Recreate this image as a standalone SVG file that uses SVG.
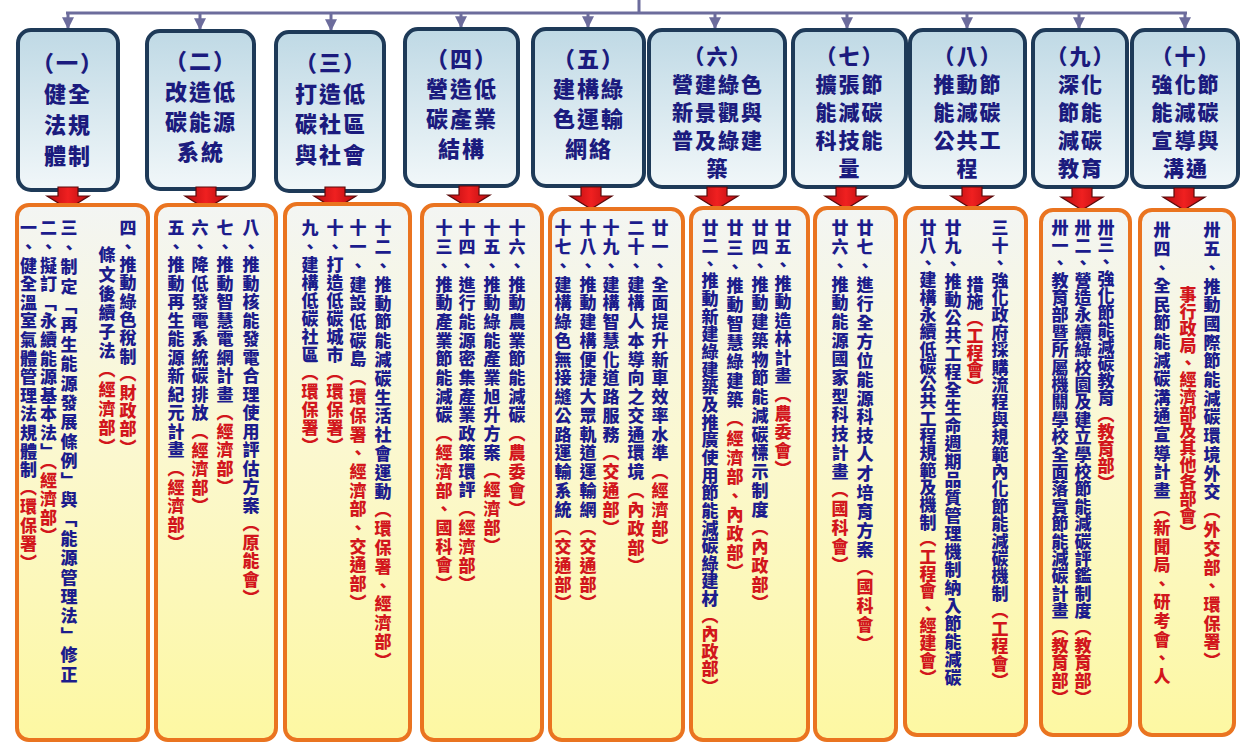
<svg xmlns="http://www.w3.org/2000/svg" width="1242" height="743" viewBox="0 0 1242 743">
<style>
.h{font-family:"Noto Sans CJK TC","Noto Sans CJK SC",sans-serif;font-size:22px;font-weight:900;fill:#1b1b7e;text-anchor:middle;letter-spacing:2px}
.h5{font-size:21px}
.v{font-family:"Noto Sans CJK TC","Noto Sans CJK SC",sans-serif;font-size:17px;font-weight:900;fill:#1c1c8c;writing-mode:vertical-rl;letter-spacing:1.6px}
.r{fill:#d2161c}
.hb{fill:url(#gb);stroke:#1e3a58;stroke-width:4}
.ob{fill:url(#gy);stroke:#ea7420;stroke-width:4}
.cn{stroke:#6c6c9c;stroke-width:3;fill:none}
.ra{fill:url(#gr);stroke:#5a0a0a;stroke-width:1.2}
</style>
<defs>
<linearGradient id="gb" x1="0" y1="0" x2="0" y2="1"><stop offset="0" stop-color="#bfd9e5"/><stop offset="1" stop-color="#f1f7f9"/></linearGradient>
<linearGradient id="gy" x1="0" y1="0" x2="0" y2="1"><stop offset="0" stop-color="#f3f5f3"/><stop offset="0.45" stop-color="#fbf8d0"/><stop offset="1" stop-color="#fdf8a2"/></linearGradient>
<linearGradient id="gr" x1="0" y1="0" x2="1" y2="0"><stop offset="0" stop-color="#b80c10"/><stop offset="0.5" stop-color="#f02020"/><stop offset="1" stop-color="#b80c10"/></linearGradient>
<marker id="ah" viewBox="0 0 10 10" refX="9" refY="5" markerWidth="4" markerHeight="4" orient="auto"><path d="M0,0 L10,5 L0,10 z" fill="#6c6c9c"/></marker>
<path id="arw" d="M-10,0 L10,0 L10,9 L21,9 L0,22 L-21,9 L-10,9 z"/>
</defs>
<rect width="1242" height="743" fill="#ffffff"/>
<g id="connectors">
<path class="cn" d="M639,0 V13 M66,13 H1187"/>
<g marker-end="url(#ah)">
<path class="cn" d="M68,13 V28"/><path class="cn" d="M200,13 V29"/><path class="cn" d="M331,13 V30"/><path class="cn" d="M461,13 V27"/><path class="cn" d="M588,13 V27"/><path class="cn" d="M715,13 V28"/><path class="cn" d="M847,13 V28"/><path class="cn" d="M967,13 V28"/><path class="cn" d="M1079,13 V28"/><path class="cn" d="M1185,13 V28"/>
</g>
</g>
<g id="h1"><rect class="hb" x="18" y="30" width="100" height="160" rx="13"/><text class="h"><tspan x="68" y="71">（一）</tspan><tspan x="68" y="102">健全</tspan><tspan x="68" y="133">法規</tspan><tspan x="68" y="164">體制</tspan></text></g>
<g id="h2"><rect class="hb" x="147" y="31" width="107" height="158" rx="13"/><text class="h"><tspan x="201" y="69">（二）</tspan><tspan x="201" y="100">改造低</tspan><tspan x="201" y="130">碳能源</tspan><tspan x="201" y="160">系統</tspan></text></g>
<g id="h3"><rect class="hb" x="276" y="32" width="108" height="159" rx="13"/><text class="h"><tspan x="331" y="71">（三）</tspan><tspan x="331" y="102">打造低</tspan><tspan x="331" y="132">碳社區</tspan><tspan x="331" y="163">與社會</tspan></text></g>
<g id="h4"><rect class="hb" x="405" y="29" width="113" height="157" rx="13"/><text class="h"><tspan x="462" y="67">（四）</tspan><tspan x="462" y="97">營造低</tspan><tspan x="462" y="127">碳產業</tspan><tspan x="462" y="157">結構</tspan></text></g>
<g id="h5"><rect class="hb" x="533" y="29" width="111" height="157" rx="13"/><text class="h"><tspan x="589" y="67">（五）</tspan><tspan x="589" y="97">建構綠</tspan><tspan x="589" y="127">色運輸</tspan><tspan x="589" y="157">網絡</tspan></text></g>
<g id="h6"><rect class="hb" x="649" y="30" width="136" height="157" rx="13"/><text class="h h5"><tspan x="718" y="64">（六）</tspan><tspan x="718" y="92">營建綠色</tspan><tspan x="718" y="120">新景觀與</tspan><tspan x="718" y="148">普及綠建</tspan><tspan x="718" y="176">築</tspan></text></g>
<g id="h7"><rect class="hb" x="793" y="30" width="113" height="157" rx="13"/><text class="h h5"><tspan x="850" y="64">（七）</tspan><tspan x="850" y="92">擴張節</tspan><tspan x="850" y="120">能減碳</tspan><tspan x="850" y="148">科技能</tspan><tspan x="850" y="176">量</tspan></text></g>
<g id="h8"><rect class="hb" x="910" y="30" width="115" height="157" rx="13"/><text class="h h5"><tspan x="968" y="64">（八）</tspan><tspan x="968" y="92">推動節</tspan><tspan x="968" y="120">能減碳</tspan><tspan x="968" y="148">公共工</tspan><tspan x="968" y="176">程</tspan></text></g>
<g id="h9"><rect class="hb" x="1033" y="30" width="94" height="157" rx="13"/><text class="h h5"><tspan x="1081" y="64">（九）</tspan><tspan x="1081" y="92">深化</tspan><tspan x="1081" y="120">節能</tspan><tspan x="1081" y="148">減碳</tspan><tspan x="1081" y="176">教育</tspan></text></g>
<g id="h10"><rect class="hb" x="1132" y="30" width="106" height="157" rx="13"/><text class="h h5"><tspan x="1186" y="64">（十）</tspan><tspan x="1186" y="92">強化節</tspan><tspan x="1186" y="120">能減碳</tspan><tspan x="1186" y="148">宣導與</tspan><tspan x="1186" y="176">溝通</tspan></text></g>
<g id="red-arrows" class="ra">
<use href="#arw" x="68" y="187"/><use href="#arw" x="206" y="187"/><use href="#arw" x="335" y="187"/><use href="#arw" x="469" y="186"/><use href="#arw" x="591" y="187"/><use href="#arw" x="717" y="187"/><use href="#arw" x="846" y="187"/><use href="#arw" x="972" y="187"/><use href="#arw" x="1082" y="188"/><use href="#arw" x="1184" y="188"/>
</g>
<g id="b1"><rect class="ob" x="17" y="205" width="131" height="535" rx="12"/>
<text class="v" x="28.5" y="219.5" style="letter-spacing:1.6px">一、健全溫室氣體管理法規體制<tspan class="r">（環保署）</tspan></text>
<text class="v" x="48.5" y="219.5" style="letter-spacing:1.6px">二、擬訂「永續能源基本法」<tspan class="r">（經濟部）</tspan></text>
<text class="v" x="69" y="219.5" style="letter-spacing:2.4px">三、制定「再生能源發展條例」與「能源管理法」修正</text>
<text class="v" x="107" y="246.5" style="letter-spacing:2.2px">條文後續子法<tspan class="r">（經濟部）</tspan></text>
<text class="v" x="128" y="219.5" style="letter-spacing:1.3px">四、推動綠色稅制<tspan class="r">（財政部）</tspan></text>
</g>
<g id="b2"><rect class="ob" x="156" y="205" width="120" height="535" rx="12"/>
<text class="v" x="176" y="219.5" style="letter-spacing:1.5px">五、推動再生能源新紀元計畫<tspan class="r">（經濟部）</tspan></text>
<text class="v" x="200" y="219.5" style="letter-spacing:1.5px">六、降低發電系統碳排放<tspan class="r">（經濟部）</tspan></text>
<text class="v" x="225" y="219.5" style="letter-spacing:1.5px">七、推動智慧電網計畫<tspan class="r">（經濟部）</tspan></text>
<text class="v" x="251" y="219.5" style="letter-spacing:1.5px">八、推動核能發電合理使用評估方案<tspan class="r">（原能會）</tspan></text>
</g>
<g id="b3"><rect class="ob" x="285" y="204" width="125" height="536" rx="12"/>
<text class="v" x="310" y="219.5" style="letter-spacing:1.1px">九、建構低碳社區<tspan class="r">（環保署）</tspan></text>
<text class="v" x="335" y="219.5" style="letter-spacing:1.1px">十、打造低碳城市<tspan class="r">（環保署）</tspan></text>
<text class="v" x="358" y="219.5" style="letter-spacing:1.7px">十一、建設低碳島<tspan class="r">（環保署、經濟部、交通部）</tspan></text>
<text class="v" x="383" y="219.5" style="letter-spacing:1.8px">十二、推動節能減碳生活社會運動<tspan class="r">（環保署、經濟部）</tspan></text>
</g>
<g id="b4"><rect class="ob" x="422" y="205" width="120" height="535" rx="12"/>
<text class="v" x="444" y="219.5" style="letter-spacing:1.7px">十三、推動產業節能減碳<tspan class="r">（經濟部、國科會）</tspan></text>
<text class="v" x="467" y="219.5" style="letter-spacing:1.7px">十四、進行能源密集產業政策環評<tspan class="r">（經濟部）</tspan></text>
<text class="v" x="492" y="219.5" style="letter-spacing:1.7px">十五、推動綠能產業旭升方案<tspan class="r">（經濟部）</tspan></text>
<text class="v" x="517" y="219.5" style="letter-spacing:1.7px">十六、推動農業節能減碳<tspan class="r">（農委會）</tspan></text>
</g>
<g id="b5"><rect class="ob" x="550" y="209" width="133" height="531" rx="12"/>
<text class="v" x="563" y="219.5" style="letter-spacing:1.75px">十七、建構綠色無接縫公路運輸系統<tspan class="r">（交通部）</tspan></text>
<text class="v" x="588" y="219.5" style="letter-spacing:1.75px">十八、推動建構便捷大眾軌道運輸網<tspan class="r">（交通部）</tspan></text>
<text class="v" x="611" y="219.5" style="letter-spacing:1.75px">十九、建構智慧化道路服務<tspan class="r">（交通部）</tspan></text>
<text class="v" x="636" y="219.5" style="letter-spacing:1.75px">二十、建構人本導向之交通環境<tspan class="r">（內政部）</tspan></text>
<text class="v" x="660" y="219.5" style="letter-spacing:1.75px">廿一、全面提升新車效率水準<tspan class="r">（經濟部）</tspan></text>
</g>
<g id="b6"><rect class="ob" x="691" y="208" width="117" height="532" rx="12"/>
<text class="v" x="710" y="219.5" style="letter-spacing:0.65px">廿二、推動新建綠建築及推廣使用節能減碳綠建材<tspan class="r">（內政部）</tspan></text>
<text class="v" x="735" y="219.5" style="letter-spacing:2.1px">廿三、推動智慧綠建築<tspan class="r">（經濟部、內政部）</tspan></text>
<text class="v" x="760" y="219.5" style="letter-spacing:1.75px">廿四、推動建築物節能減碳標示制度<tspan class="r">（內政部）</tspan></text>
<text class="v" x="783" y="219.5" style="letter-spacing:1.5px">廿五、推動造林計畫<tspan class="r">（農委會）</tspan></text>
</g>
<g id="b7"><rect class="ob" x="815" y="208" width="81" height="532" rx="12"/>
<text class="v" x="840" y="219.5" style="letter-spacing:1.7px">廿六、推動能源國家型科技計畫<tspan class="r">（國科會）</tspan></text>
<text class="v" x="865" y="219.5" style="letter-spacing:1.9px">廿七、進行全方位能源科技人才培育方案<tspan class="r">（國科會）</tspan></text>
</g>
<g id="b8"><rect class="ob" x="905" y="208" width="121" height="527" rx="12"/>
<text class="v" x="928" y="219.5" style="letter-spacing:0.3px">廿八、建構永續低碳公共工程規範及機制<tspan class="r">（工程會、經建會）</tspan></text>
<text class="v" x="953" y="219.5" style="letter-spacing:1px">廿九、推動公共工程全生命週期品質管理機制納入節能減碳</text>
<text class="v" x="975" y="276.5" style="letter-spacing:0px">措施<tspan class="r">（工程會）</tspan></text>
<text class="v" x="1000" y="219.5" style="letter-spacing:0.4px">三十、強化政府採購流程與規範內化節能減碳機制<tspan class="r">（工程會）</tspan></text>
</g>
<g id="b9"><rect class="ob" x="1041" y="210" width="89" height="525" rx="12"/>
<text class="v" x="1060" y="219.5" style="letter-spacing:0.4px">卅一、教育部暨所屬機關學校全面落實節能減碳計畫<tspan class="r">（教育部）</tspan></text>
<text class="v" x="1083" y="219.5" style="letter-spacing:0.4px">卅二、營造永續綠校園及建立學校節能減碳評鑑制度<tspan class="r">（教育部）</tspan></text>
<text class="v" x="1106" y="219.5" style="letter-spacing:0px">卅三、強化節能減碳教育<tspan class="r">（教育部）</tspan></text>
</g>
<g id="b10"><rect class="ob" x="1140" y="210" width="94" height="525" rx="12"/>
<text class="v" x="1162" y="221.5" style="letter-spacing:1.6px">卅四、全民節能減碳溝通宣導計畫<tspan class="r">（新聞局、研考會、人</tspan></text>
<text class="v r" x="1188" y="286.5" style="letter-spacing:0px">事行政局、經濟部及其他各部會）</text>
<text class="v" x="1212" y="221.5" style="letter-spacing:1.7px">卅五、推動國際節能減碳環境外交<tspan class="r">（外交部、環保署）</tspan></text>
</g>
</svg>
